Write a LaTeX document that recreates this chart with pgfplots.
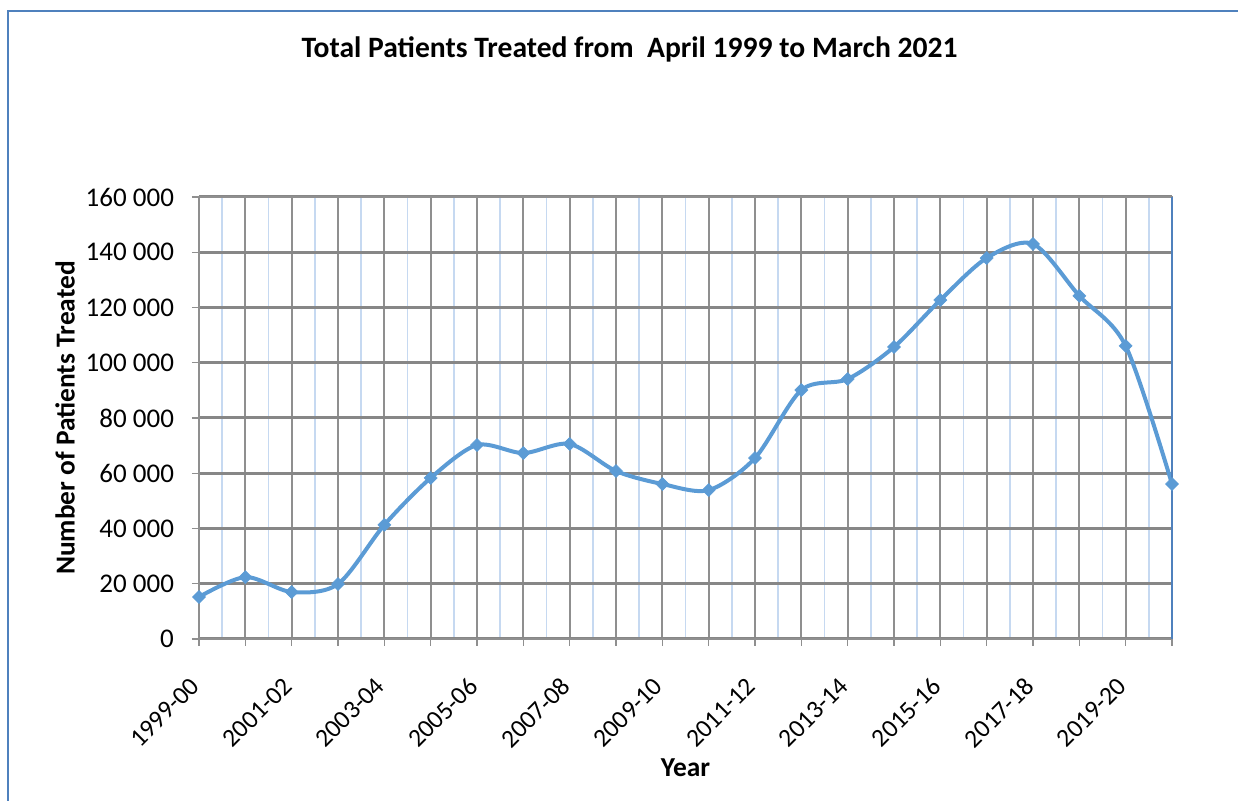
\documentclass[border=0pt]{standalone}
\usepackage{pgfplots}
\pgfplotsset{compat=1.18}
\usepackage{fontspec}
\setmainfont{Carlito}
\definecolor{linec}{HTML}{5B9BD5}
\definecolor{gridc}{HTML}{878787}
\definecolor{vgridc}{HTML}{8F8F8F}
\definecolor{mgridc}{HTML}{C6D9F1}
\definecolor{borderc}{HTML}{4F81BD}
\begin{document}
\begin{tikzpicture}[x=1pt,y=1pt]
\path[use as bounding box] (0,0) rectangle (619,400.5);
\draw[borderc, line width=1pt] (4,0) -- (4,394.75) -- (619,394.75);
\begin{axis}[
  at={(99.5pt,81pt)}, anchor=south west,
  scale only axis, width=486.5pt, height=221pt,
  xmin=0, xmax=21, ymin=0, ymax=160000,
  xtick={0,...,21},
  xticklabels={1999-00,,2001-02,,2003-04,,2005-06,,2007-08,,2009-10,,2011-12,,2013-14,,2015-16,,2017-18,,2019-20,},
  ytick={0,20000,...,160000},
  scaled y ticks=false,
  /pgf/number format/.cd, fixed, 1000 sep={\ }, assume math mode=true, /pgfplots/.cd,
  minor x tick num=1,
  xmajorgrids, ymajorgrids, xminorgrids,
  x grid style={vgridc, line width=1pt},
  y grid style={gridc, line width=1.5pt},
  minor x grid style={mgridc, line width=0.7pt},
  minor tick length=0pt,
  major tick length=3.5pt,
  tick align=outside,
  xtick pos=bottom, ytick pos=left,
  tick style={vgridc, line width=0.6pt},
  axis line style={vgridc, line width=0.6pt},
  tick label style={font=\fontsize{13.5}{16}\selectfont, black},
  xticklabel style={font=\fontsize{12.8}{15}\selectfont, anchor=north east, xshift=-5pt, yshift=-10.1pt, rotate=45},
  yticklabel style={xshift=-5.5pt},
  every axis title shift=0pt,
  title={\textbf{Total Patients Treated from\ \ April 1999 to March 2021}},
  title style={at={(axis description cs:0.4425,1.333)}, anchor=center, font=\fontsize{14.8}{17}\selectfont},
  xlabel={\textbf{Year}},
  xlabel style={at={(axis description cs:0.5,-0.292)}, anchor=center, font=\fontsize{13.7}{16}\selectfont},
  ylabel={\textbf{Number of Patients Treated}},
  ylabel style={at={(axis description cs:-0.1377,0.5)}, anchor=center, font=\fontsize{13.7}{16}\selectfont},
  clip=false,
]
\addplot[linec, line width=2pt, smooth, mark=square*, mark size=2.3pt, mark options={fill=linec, draw=linec, line width=0.3pt, rotate=45}] coordinates {
(0,15200) (1,22400) (2,17000) (3,19900) (4,41300) (5,58300) (6,70200) (7,67300)
(8,70600) (9,60800) (10,56100) (11,53900) (12,65500) (13,90100) (14,94100)
(15,105700) (16,122700) (17,137900) (18,143000) (19,124200) (20,106100) (21,56100)
};
\draw[borderc, line width=0.7pt] (rel axis cs:1,0) -- (rel axis cs:1,1);
\end{axis}
\end{tikzpicture}
\end{document}
